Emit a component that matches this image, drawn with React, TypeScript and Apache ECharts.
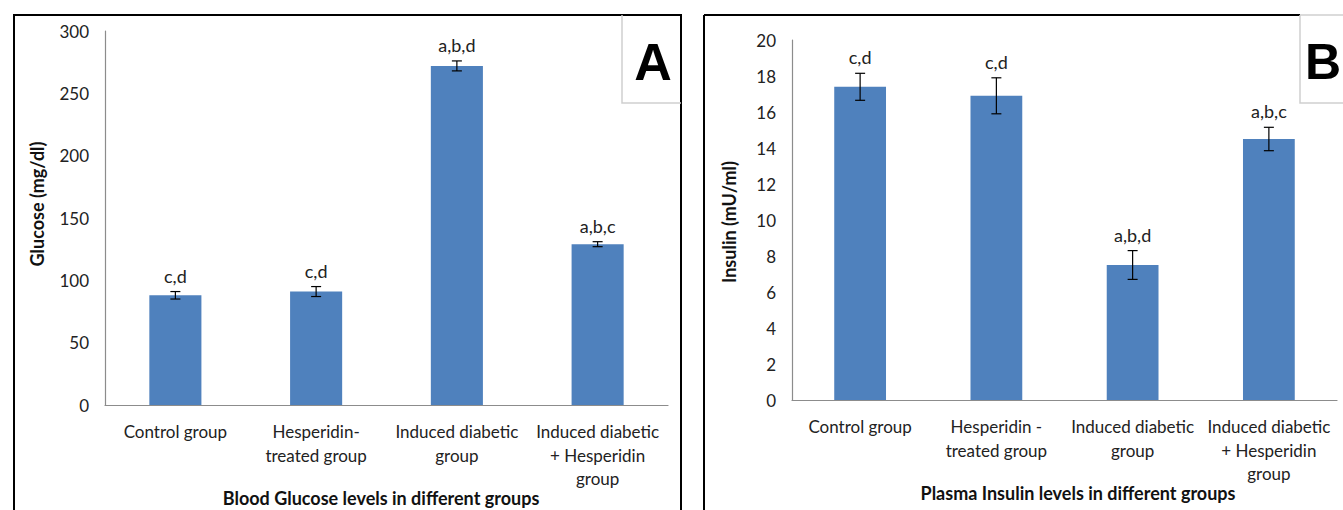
import React, { useEffect, useRef } from "react";
import * as echarts from "echarts";

const glucoseCategories = [
  "Control group",
  "Hesperidin-\ntreated group",
  "Induced diabetic\ngroup",
  "Induced diabetic\n+ Hesperidin\ngroup",
];
const insulinCategories = [
  "Control group",
  "Hesperidin -\ntreated group",
  "Induced diabetic\ngroup",
  "Induced diabetic\n+ Hesperidin\ngroup",
];
const glucoseMean = [88, 91, 272, 129];
const glucoseErr = [3, 4, 4, 2];
const glucoseLetters = ["c,d", "c,d", "a,b,d", "a,b,c"];
const glucoseTicks = { min: 0, max: 300, interval: 50 };

const insulinMean = [17.4, 16.9, 7.5, 14.5];
const insulinErr = [0.75, 1.0, 0.8, 0.65];
const insulinLetters = ["c,d", "c,d", "a,b,d", "a,b,c"];
const insulinTicks = { min: 0, max: 20, interval: 2 };

const FONT = "Lato";
const BAR = "#4F81BD";
const AXIS = "#8c8c8c";

function errorSeries(idx: number, mean: number[], err: number[], letters: string[]) {
  return {
    type: "custom",
    xAxisIndex: idx,
    yAxisIndex: idx,
    clip: false,
    z: 5,
    data: mean.map((m, i) => [i, m, err[i]]),
    renderItem: (params: any, api: any) => {
      const i = api.value(0);
      const m = api.value(1);
      const e = api.value(2);
      const top = api.coord([i, m + e]);
      const bot = api.coord([i, m - e]);
      const h = 5;
      const st = { stroke: "#000", lineWidth: 1.2 };
      return {
        type: "group",
        children: [
          { type: "line", shape: { x1: top[0], y1: top[1], x2: bot[0], y2: bot[1] }, style: st },
          { type: "line", shape: { x1: top[0] - h, y1: top[1], x2: top[0] + h, y2: top[1] }, style: st },
          { type: "line", shape: { x1: bot[0] - h, y1: bot[1], x2: bot[0] + h, y2: bot[1] }, style: st },
          {
            type: "text",
            x: top[0],
            y: top[1] - 7,
            style: {
              text: letters[params.dataIndex],
              fontFamily: FONT,
              fontSize: 18,
              fill: "#222",
              align: "center",
              verticalAlign: "bottom",
            },
          },
        ],
      };
    },
  };
}

export default function App() {
  const ref = useRef<HTMLDivElement>(null);
  useEffect(() => {
    if (!ref.current) return;
    const chart = echarts.init(ref.current, null, { renderer: "svg" });
    const xAxisCommon = {
      type: "category",
      axisLine: { lineStyle: { color: AXIS, width: 1.2 } },
      axisTick: { show: false },
      axisLabel: {
        interval: 0,
        color: "#222",
        fontFamily: FONT,
        fontSize: 17,
        lineHeight: 23.5,
        margin: 15,
      },
    };
    const yAxisCommon = {
      type: "value",
      axisLine: { show: true, lineStyle: { color: AXIS, width: 1.2 } },
      axisTick: { show: false },
      splitLine: { show: false },
      axisLabel: { color: "#222", fontFamily: FONT, fontSize: 17, margin: 16 },
    };
    chart.setOption({
      animation: false,
      grid: [
        { left: 105, top: 31, width: 563, height: 374 },
        { left: 792, top: 40, width: 545, height: 360 },
      ],
      xAxis: [
        { ...xAxisCommon, gridIndex: 0, data: glucoseCategories },
        { ...xAxisCommon, gridIndex: 1, data: insulinCategories },
      ],
      yAxis: [
        { ...yAxisCommon, gridIndex: 0, ...glucoseTicks },
        { ...yAxisCommon, gridIndex: 1, ...insulinTicks },
      ],
      series: [
        {
          type: "bar",
          xAxisIndex: 0,
          yAxisIndex: 0,
          data: glucoseMean,
          barWidth: "37%",
          itemStyle: { color: BAR },
        },
        errorSeries(0, glucoseMean, glucoseErr, glucoseLetters),
        {
          type: "bar",
          xAxisIndex: 1,
          yAxisIndex: 1,
          data: insulinMean,
          barWidth: "38%",
          itemStyle: { color: BAR },
        },
        errorSeries(1, insulinMean, insulinErr, insulinLetters),
      ],
      graphic: [
        { type: "rect", shape: { x: 14, y: 15, width: 667, height: 520 }, style: { fill: "none", stroke: "#000", lineWidth: 2 }, z: -1 },
        { type: "line", shape: { x1: 704, y1: 15, x2: 1300, y2: 15 }, style: { stroke: "#000", lineWidth: 2 } },
        { type: "line", shape: { x1: 704, y1: 15, x2: 704, y2: 520 }, style: { stroke: "#000", lineWidth: 2 } },
        { type: "polyline", shape: { points: [[622, 15], [622, 103], [681, 103]] }, style: { fill: "none", stroke: "#cfcfcf", lineWidth: 1.5 } },
        { type: "polyline", shape: { points: [[1300, 15], [1300, 103], [1350, 103]] }, style: { fill: "none", stroke: "#cfcfcf", lineWidth: 1.5 } },
        { type: "line", shape: { x1: 1300, y1: 15, x2: 1350, y2: 15 }, style: { stroke: "#cfcfcf", lineWidth: 1.5 } },
        { type: "text", x: 653, y: 62, style: { text: "A", fontFamily: "Liberation Sans", fontWeight: "bold", fontSize: 52, fill: "#000", align: "center", verticalAlign: "middle" } },
        { type: "text", x: 1323, y: 62, style: { text: "B", fontFamily: "Liberation Sans", fontWeight: "bold", fontSize: 50, fill: "#000", align: "center", verticalAlign: "middle" } },
        { type: "text", x: 381, y: 498, style: { text: "Blood Glucose levels in different groups", fontFamily: FONT, fontWeight: "bold", fontSize: 18, fill: "#111", align: "center", verticalAlign: "middle" } },
        { type: "text", x: 1078, y: 493, style: { text: "Plasma Insulin levels in different groups", fontFamily: FONT, fontWeight: "bold", fontSize: 18, fill: "#111", align: "center", verticalAlign: "middle" } },
        { type: "text", x: 37, y: 204, rotation: Math.PI / 2, style: { text: "Glucose (mg/dl)", fontFamily: FONT, fontWeight: "bold", fontSize: 18, fill: "#111", align: "center", verticalAlign: "middle" } },
        { type: "text", x: 729, y: 222, rotation: Math.PI / 2, style: { text: "Insulin (mU/ml)", fontFamily: FONT, fontWeight: "bold", fontSize: 18, fill: "#111", align: "center", verticalAlign: "middle" } },
      ],
    });
    return () => chart.dispose();
  }, []);
  return (
    <div
      ref={ref}
      style={{ position: "fixed", left: 0, top: 0, width: 1343, height: 510, background: "#fff" }}
    />
  );
}
